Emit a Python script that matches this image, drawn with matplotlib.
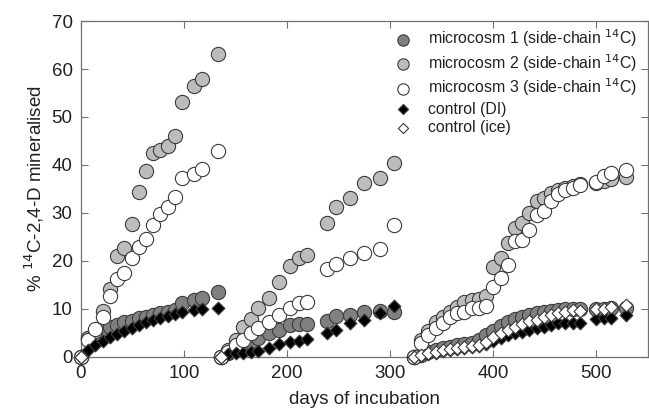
import matplotlib
matplotlib.use("Agg")
import matplotlib.pyplot as plt

plt.rcParams['font.family'] = ['Liberation Sans', 'DejaVu Sans']

# days of incubation for the three runs
days1 = [0, 7, 14, 21, 28, 35, 42, 49, 56, 63, 70, 77, 84, 91, 98, 110, 117, 133]
days2 = [136, 143, 150, 157, 165, 172, 182, 192, 203, 211, 219, 239, 247, 261, 275, 290, 304]
days3 = [323, 330, 337, 344, 351, 358, 365, 372, 379, 386, 393, 400, 407, 414,
         421, 428, 435, 442, 449, 456, 463, 470, 477, 484, 500, 507, 514, 529]

m1_run1 = [0, 4.0, 4.6, 5.6, 6.3, 6.7, 7.2, 7.6, 8.1, 8.4, 8.75, 9.1, 9.4, 9.8, 11.2, 11.9, 12.2, 13.5]
m2_run1 = [0, 4.0, 5.5, 9.6, 14.1, 21.0, 22.7, 27.8, 34.3, 38.7, 42.4, 43.2, 44.0, 46.1, 53.1, 56.4, 57.9, 63.1]
m3_run1 = [0, 3.5, 5.8, 8.3, 12.7, 16.2, 17.6, 20.7, 23.0, 24.5, 27.4, 29.7, 31.2, 33.4, 37.2, 38.2, 39.2, 42.9]
di_run1 = [0, 1.5, 2.5, 3.3, 4.1, 4.8, 5.5, 6.1, 6.7, 7.2, 7.7, 8.1, 8.5, 8.9, 9.3, 9.8, 10.0, 10.3]

m1_run2 = [0, 0.8, 1.8, 2.6, 3.2, 3.9, 4.9, 5.6, 6.7, 6.8, 6.8, 7.5, 8.5, 8.75, 9.3, 9.6, 9.3]
m2_run2 = [0, 1.5, 3.5, 6.2, 8.0, 10.2, 12.3, 15.6, 19.0, 20.6, 21.3, 28.0, 31.3, 33.1, 36.2, 37.2, 40.4]
m3_run2 = [0, 1.0, 2.5, 3.6, 5.1, 6.0, 7.2, 8.75, 10.3, 11.2, 11.5, 18.3, 19.3, 20.7, 21.7, 22.5, 27.5]
di_run2 = [0, 0.6, 0.8, 0.9, 1.0, 1.3, 1.9, 2.7, 3.1, 3.3, 3.8, 4.9, 5.6, 7.1, 7.7, 9.2, 10.6]

m1_run3 = [0, 0.5, 1.0, 1.4, 1.8, 2.1, 2.4, 2.7, 3.0, 3.5, 4.5, 5.5, 6.5, 7.2,
           7.9, 8.4, 8.8, 9.1, 9.4, 9.6, 9.8, 9.9, 10.0, 9.9, 9.9, 10.0, 10.2, 10.2]
m2_run3 = [0, 3.5, 5.5, 7.3, 8.3, 9.3, 10.5, 11.5, 11.9, 12.1, 12.8, 18.7, 20.6, 23.8,
           26.8, 27.9, 30.1, 32.4, 33.1, 34.2, 34.8, 35.3, 35.6, 36.0, 36.3, 36.6, 37.0, 37.5]
m3_run3 = [0, 2.85, 4.6, 6.0, 7.0, 8.3, 9.1, 9.4, 10.3, 10.3, 10.6, 14.6, 16.5, 19.2,
           24.2, 24.4, 26.5, 29.6, 30.5, 32.5, 34.0, 34.8, 35.3, 35.8, 36.5, 37.8, 38.3, 39.0]
di_run3 = [0, 0.3, 0.6, 0.9, 1.2, 1.4, 1.6, 1.8, 2.0, 2.3, 2.8, 3.4, 4.0, 4.5,
           4.9, 5.3, 5.6, 6.0, 6.3, 6.7, 7.0, 7.0, 7.1, 7.1, 8.0, 8.1, 8.1, 8.7]
ice_run3 = [0, 0.4, 0.8, 1.1, 1.4, 1.6, 1.8, 2.0, 2.2, 2.5, 3.2, 4.2, 4.9, 5.6,
            6.3, 6.9, 7.4, 7.8, 8.4, 8.75, 9.1, 9.4, 9.8, 9.6, 10.1, 10.1, 10.5, 10.8]
ice_days = [0, 136] + days3
ice_vals = [0, 0] + ice_run3

edge = '#3c3c3c'
circle_kw = dict(marker='o', s=105, edgecolors=edge, linewidths=0.8, zorder=3, clip_on=False)
diamond_kw = dict(marker='D', s=42, edgecolors=edge, linewidths=0.8, zorder=4, clip_on=False)

fig = plt.figure(figsize=(6.49, 4.11), dpi=100)
ax = fig.add_axes([0.1248, 0.1314, 0.8736, 0.8175])

all_days = days1 + days2 + days3
ax.scatter(all_days, m1_run1 + m1_run2 + m1_run3, facecolors='#808080',
           label='microcosm 1 (side-chain $^{14}$C)', **circle_kw)
ax.scatter(all_days, m2_run1 + m2_run2 + m2_run3, facecolors='#bcbcbc',
           label='microcosm 2 (side-chain $^{14}$C)', **circle_kw)
ax.scatter(all_days, m3_run1 + m3_run2 + m3_run3, facecolors='white',
           label='microcosm 3 (side-chain $^{14}$C)', **circle_kw)
ax.scatter(all_days, di_run1 + di_run2 + di_run3, facecolors='black',
           label='control (DI)', **diamond_kw)
ax.scatter(ice_days, ice_vals, facecolors='white',
           label='control (ice)', **diamond_kw)

ax.set_xlim(0, 550)
ax.set_ylim(0, 70)
ax.set_xticks(range(0, 501, 100))
ax.set_yticks(range(0, 71, 10))
ax.tick_params(direction='in', top=True, right=True, length=5, color='#707070',
               labelsize=13.5, pad=6)
for sp in ax.spines.values():
    sp.set_color('#707070')
    sp.set_linewidth(0.9)
for c in ax.get_xticklabels() + ax.get_yticklabels():
    c.set_color('#222222')

ax.set_xlabel('days of incubation', fontsize=13.5, color='#222222', labelpad=6)
ax.set_ylabel('% $^{14}$C-2,4-D mineralised', fontsize=13.5, color='#222222', labelpad=4)

leg = ax.legend(loc='upper right', frameon=False, fontsize=11.4, handletextpad=0.55,
                labelspacing=0.2, borderaxespad=0.3, scatterpoints=1, markerscale=0.8,
                bbox_to_anchor=(1.0, 1.015))
for t in leg.get_texts():
    t.set_color('#222222')

fig.savefig('out.png', dpi=100)
